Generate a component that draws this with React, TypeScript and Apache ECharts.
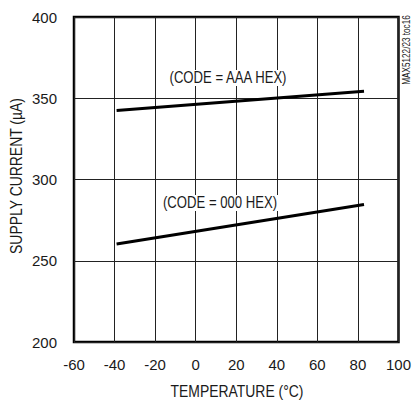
import React, { useEffect, useRef } from "react";
import * as echarts from "echarts";

const xTicks = [-60, 100];
const yRange = [200, 400];
const aaaHex: [number, number][] = [[-39, 342.5], [83, 354.3]];
const zeroHex: [number, number][] = [[-39, 260.3], [83, 284.6]];
const labelAAA = "(CODE = AAA HEX)";
const label000 = "(CODE = 000 HEX)";
const xTitle = "TEMPERATURE (°C)";
const yTitle = "SUPPLY CURRENT (µA)";
const sideNote = "MAX5122/23 toc16";

const FONT = "'Liberation Sans', Arial, sans-serif";
const NARROW = 0.82;
const INK = "#1a1a1a";

function txt(text: string, x: number, y: number, size: number, opts: any = {}) {
  return {
    type: "text",
    x,
    y,
    scaleX: NARROW,
    rotation: opts.rotation || 0,
    z: 10,
    style: {
      text,
      fontSize: size,
      fontFamily: FONT,
      fill: INK,
      align: "center",
      verticalAlign: "middle",
      backgroundColor: opts.bg,
      padding: opts.bg ? [0, 3] : 0,
    },
  };
}

export default function App() {
  const ref = useRef<HTMLDivElement>(null);
  useEffect(() => {
    if (!ref.current) return;
    const chart = echarts.init(ref.current, undefined, { renderer: "svg" });
    chart.setOption({
      animation: false,
      textStyle: { fontFamily: FONT },
      grid: {
        left: 74,
        right: 14,
        top: 17,
        bottom: 58,
        show: true,
        borderColor: "#000",
        borderWidth: 2.5,
        backgroundColor: "transparent",
      },
      xAxis: {
        type: "value",
        min: xTicks[0],
        max: xTicks[1],
        interval: 20,
        axisLine: { show: false },
        axisTick: { show: false },
        splitLine: { show: true, lineStyle: { color: "#222", width: 1 } },
        axisLabel: { color: INK, fontSize: 15, margin: 15, fontFamily: FONT },
      },
      yAxis: {
        type: "value",
        min: yRange[0],
        max: yRange[1],
        interval: 50,
        axisLine: { show: false },
        axisTick: { show: false },
        splitLine: { show: true, lineStyle: { color: "#222", width: 1 } },
        axisLabel: { color: INK, fontSize: 15, margin: 17, fontFamily: FONT },
      },
      series: [
        {
          type: "line",
          data: aaaHex,
          showSymbol: false,
          lineStyle: { color: "#000", width: 3 },
          z: 5,
        },
        {
          type: "line",
          data: zeroHex,
          showSymbol: false,
          lineStyle: { color: "#000", width: 3 },
          z: 5,
        },
      ],
      graphic: [
        txt(labelAAA, 228, 78, 16, { bg: "#fff" }),
        txt(label000, 220, 203, 16, { bg: "#fff" }),
        txt(xTitle, 237, 391, 17),
        txt(yTitle, 16, 176, 17, { rotation: Math.PI / 2 }),
        txt(sideNote, 407, 50, 10, { rotation: Math.PI / 2 }),
      ],
    });
    return () => chart.dispose();
  }, []);
  return <div ref={ref} style={{ width: 414, height: 400, position: "absolute", left: 0, top: 0 }} />;
}
